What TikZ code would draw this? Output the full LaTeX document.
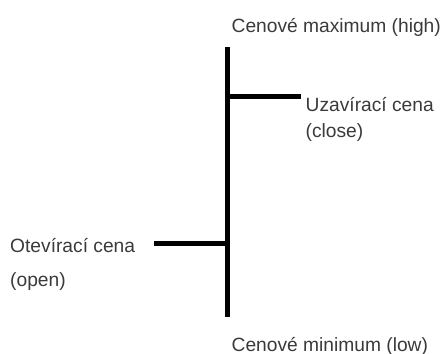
\documentclass[tikz,border=0pt]{standalone}
\usepackage{fontspec}
\setmainfont{Liberation Sans}
\definecolor{txtgray}{HTML}{3A3A3A}
\begin{document}
\begin{tikzpicture}[x=1pt,y=-1pt,
  lbl/.style={anchor=base west,inner sep=0pt,text=txtgray,font=\fontsize{19.2}{22}\selectfont},
  bar/.style={line width=4.5pt,black}]
\useasboundingbox (0,0) rectangle (448,354);
% labels
\node[lbl] (high) at (231.5,32) {Cenové maximum (high)};
\node[lbl] (close) at (305.5,111) {Uzavírací cena};
\node[lbl] (close2) at (305.5,137) {(close)};
\node[lbl] (open) at (10,252) {Otevírací cena};
\node[lbl] (open2) at (10,286) {(open)};
\node[lbl] (low) at (231.5,351) {Cenové minimum (low)};
% price bar
\coordinate (top) at (227.5,47);
\coordinate (bot) at (227.5,317);
\coordinate (cl) at (227.5,96.5);
\coordinate (op) at (227.5,243.5);
\coordinate (clend) at (301,96.5);
\coordinate (opend) at (154,243.5);
\draw[bar] (top) -- (bot);
\draw[bar] (cl) -- (clend);
\draw[bar] (opend) -- (op);
\end{tikzpicture}
\end{document}
